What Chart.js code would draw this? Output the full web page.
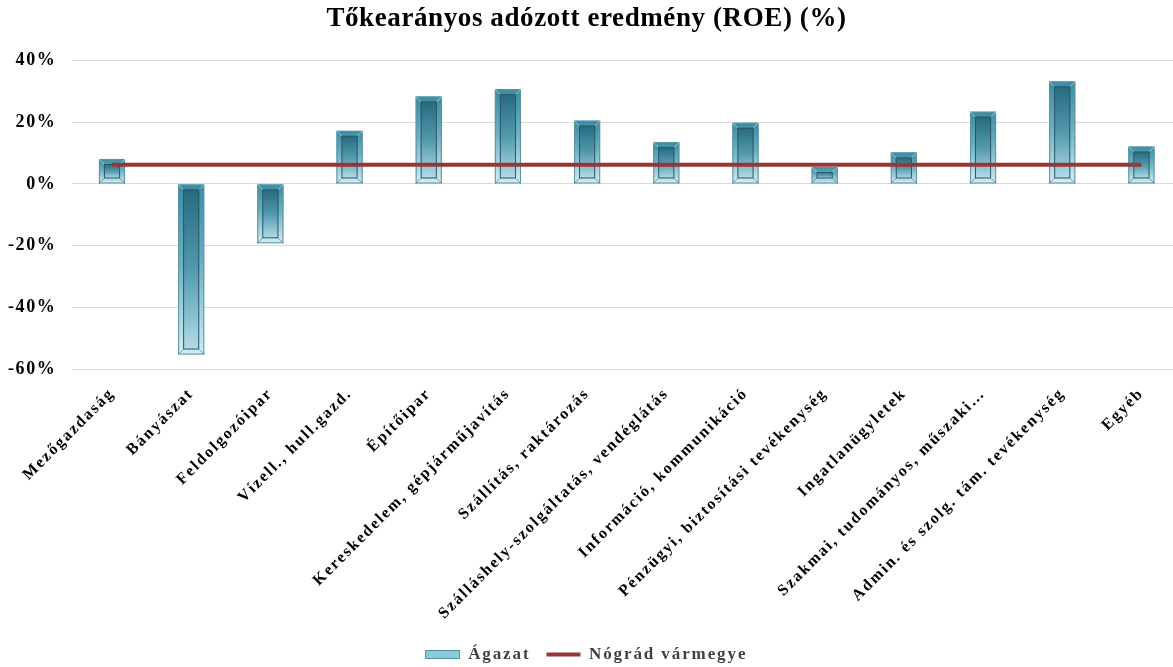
<!DOCTYPE html>
<html>
<head>
<meta charset="utf-8">
<script src="https://cdn.jsdelivr.net/npm/chart.js@4.4.1/dist/chart.umd.min.js"></script>
<style>
  html, body { margin: 0; padding: 0; background: #fff; overflow: hidden; }
  #wrap { width: 1181px; height: 667px; position: relative; }
</style>
</head>
<body>
<div id="wrap"><canvas id="roeChart"></canvas></div>
<script>
// categories (ágazatok)
const categories = [
  "Mezőgazdaság",
  "Bányászat",
  "Feldolgozóipar",
  "Vízell., hull.gazd.",
  "Építőipar",
  "Kereskedelem, gépjárműjavítás",
  "Szállítás, raktározás",
  "Szálláshely-szolgáltatás, vendéglátás",
  "Információ, kommunikáció",
  "Pénzügyi, biztosítási tevékenység",
  "Ingatlanügyletek",
  "Szakmai, tudományos, műszaki…",
  "Admin. és szolg. tám. tevékenység",
  "Egyéb"
];

// ROE by sector, %
const agazatValues = [8.1, -55.2, -19.2, 17.2, 28.3, 30.7, 20.5, 13.6, 19.8, 5.5, 10.2, 23.4, 33.2, 12.1];

// county average, %
const nogradValues = [6.2, 6.2, 6.2, 6.2, 6.2, 6.2, 6.2, 6.2, 6.2, 6.2, 6.2, 6.2, 6.2, 6.2];

const serif = "'Liberation Serif', 'Times New Roman', serif";

// paints the bevelled teal look over each bar
const bevelBars = {
  id: 'bevelBars',
  afterDatasetDraw(chart, args) {
    if (args.index !== 0) return;
    const ctx = chart.ctx;
    args.meta.data.forEach(function(el) {
      const p = el.getProps(['x', 'y', 'base', 'width'], true);
      const left = p.x - p.width / 2;
      const top = Math.min(p.y, p.base);
      const h = Math.abs(p.base - p.y);
      const w = p.width;
      if (h < 1) return;

      ctx.save();
      let g = ctx.createLinearGradient(0, top, 0, top + h);
      g.addColorStop(0, '#3a8ca4');
      g.addColorStop(0.45, '#6aafc3');
      g.addColorStop(1, '#d3edf4');
      ctx.fillStyle = g;
      ctx.fillRect(left, top, w, h);
      ctx.strokeStyle = '#5f93a2';
      ctx.lineWidth = 1;
      ctx.strokeRect(left + 0.5, top + 0.5, w - 1, h - 1);

      const ins = Math.min(5, h / 3);
      const il = left + ins, it = top + ins, iw = w - 2 * ins, ih = h - 2 * ins;
      if (ih > 1) {
        let g2 = ctx.createLinearGradient(0, it, 0, it + ih);
        g2.addColorStop(0, '#276a7e');
        g2.addColorStop(0.5, '#5299ae');
        g2.addColorStop(1, '#b3dce7');
        ctx.fillStyle = g2;
        ctx.fillRect(il, it, iw, ih);
        ctx.strokeStyle = '#2c5966';
        ctx.strokeRect(il + 0.5, it + 0.5, iw - 1, ih - 1);

        // bevel diagonals
        ctx.strokeStyle = 'rgba(255,255,255,0.5)';
        ctx.beginPath();
        ctx.moveTo(left, top); ctx.lineTo(il, it);
        ctx.moveTo(left + w, top); ctx.lineTo(il + iw, it);
        ctx.stroke();
        ctx.strokeStyle = 'rgba(40,80,90,0.5)';
        ctx.beginPath();
        ctx.moveTo(left, top + h); ctx.lineTo(il, it + ih);
        ctx.moveTo(left + w, top + h); ctx.lineTo(il + iw, it + ih);
        ctx.stroke();
      }
      ctx.restore();
    });
  }
};

let ctx = document.getElementById("roeChart").getContext("2d");

// the original chart's serif is set wide; give text some tracking
const fontProp = Object.getOwnPropertyDescriptor(CanvasRenderingContext2D.prototype, 'font');
Object.defineProperty(ctx, 'font', {
  get() { return fontProp.get.call(this); },
  set(v) {
    fontProp.set.call(this, v);
    if (v.indexOf('27px') >= 0) this.letterSpacing = '0.6px';
    else if (v.indexOf('18px') >= 0) this.letterSpacing = '1.6px';
    else this.letterSpacing = '1.9px';
  }
});

let roeChart = new Chart(ctx, {
  data: {
    labels: categories,
    datasets: [{
      type: 'bar',
      label: "Ágazat",
      data: agazatValues,
      order: 2,
      backgroundColor: '#8ccbdc',
      borderColor: '#4d8da0',
      borderWidth: 1,
      barPercentage: 0.33,
      categoryPercentage: 1
    }, {
      type: 'line',
      label: "Nógrád vármegye",
      data: nogradValues,
      order: 1,
      borderColor: '#953735',
      backgroundColor: '#953735',
      borderWidth: 4,
      pointRadius: 0,
      pointStyle: 'line',
      tension: 0
    }]
  },
  options: {
    responsive: true,
    maintainAspectRatio: false,
    animation: false,
    layout: { padding: { left: -8, right: 0, top: 0, bottom: -6 } },
    plugins: {
      title: {
        display: true,
        text: "Tőkearányos adózott eredmény (ROE) (%)",
        color: '#000',
        font: { family: serif, size: 27, weight: 'bold' },
        padding: { top: 3, bottom: 25 }
      },
      legend: {
        position: 'bottom',
        labels: {
          usePointStyle: true,
          pointStyleWidth: 34,
          boxHeight: 8,
          padding: 16,
          color: '#404040',
          font: { family: serif, size: 17, weight: 'bold' },
          sort: function(a, b) { return a.datasetIndex - b.datasetIndex; },
          generateLabels: function(chart) {
            const items = Chart.defaults.plugins.legend.labels.generateLabels(chart);
            items.forEach(function(it) {
              if (it.datasetIndex === 0) {
                it.pointStyle = 'rect';
                it.lineWidth = 1;
              } else {
                it.pointStyle = 'line';
                it.lineWidth = 4;
              }
            });
            return items;
          }
        }
      },
      tooltip: { enabled: false }
    },
    scales: {
      x: {
        grid: { display: false },
        border: { display: false },
        ticks: {
          color: '#000',
          minRotation: 45,
          maxRotation: 45,
          autoSkip: false,
          padding: 7,
          font: { family: serif, size: 16, weight: 'bold' }
        }
      },
      y: {
        min: -60,
        max: 40,
        grid: { color: '#d9d9d9', lineWidth: 1, drawTicks: false },
        border: { display: false },
        ticks: {
          stepSize: 20,
          color: '#000',
          padding: 16,
          font: { family: serif, size: 18, weight: 'bold' },
          callback: function(v) { return v + '%'; }
        }
      }
    }
  },
  plugins: [bevelBars]
});
</script>
</body>
</html>
